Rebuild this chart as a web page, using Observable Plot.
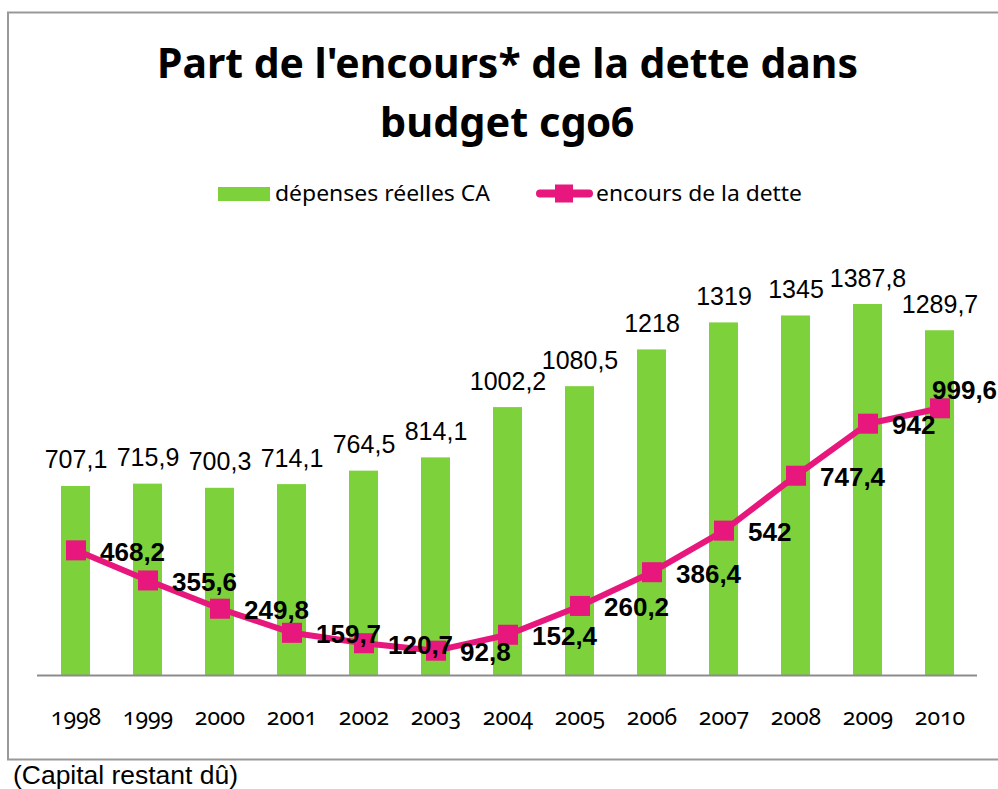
<!DOCTYPE html>
<html><head><meta charset="utf-8">
<script src="https://cdn.jsdelivr.net/npm/d3@7"></script>
<script src="https://cdn.jsdelivr.net/npm/@observablehq/plot@0.6"></script>
<style>
html,body{margin:0;padding:0;width:998px;height:789px;overflow:hidden;background:#fff;}
#overlay{position:absolute;left:0;top:0;}
#chart{position:absolute;left:0;top:240px;}
#chart svg{overflow:visible;}
#chart g[aria-label="x-axis tick label"] text{font-variant-numeric:oldstyle-nums;}
.onum{font-variant-numeric:oldstyle-nums;}
</style></head>
<body>
<svg id="overlay" width="998" height="789"></svg>
<div id="chart"></div>
<script>
const years = ["1998","1999","2000","2001","2002","2003","2004","2005","2006","2007","2008","2009","2010"];
const depenses = [707.1, 715.9, 700.3, 714.1, 764.5, 814.1, 1002.2, 1080.5, 1218, 1319, 1345, 1387.8, 1289.7];
const encours = [468.2, 355.6, 249.8, 159.7, 120.7, 92.8, 152.4, 260.2, 386.4, 542, 747.4, 942, 999.6];
const titleLines = ["Part de l'encours* de la dette dans", "budget cg06"];
const seriesNames = ["dépenses réelles CA", "encours de la dette"];
const caption = "(Capital restant dû)";

const GREEN = "#7dd13a", PINK = "#e8177d";
const fmt = v => String(v).replace(".", ",");

const data = years.map((y, i) => ({year: y, dep: depenses[i], enc: encours[i]}));
const last = data.slice(-1);
const rest = data.slice(0, -1);

// Overlay: frame, title, legend, caption
const ov = d3.select("#overlay");
ov.append("rect").attr("x", 8).attr("y", 12.5).attr("width", 1010).attr("height", 747)
  .attr("fill", "none").attr("stroke", "#999").attr("stroke-width", 2);
const tl = [{t: titleLines[0], x: 157, y: 78, w: 701}, {t: titleLines[1], x: 380, y: 137, w: 255}];
tl.forEach(d => ov.append("text").attr("class", "onum").attr("x", d.x).attr("y", d.y)
  .attr("font-family", "'Noto Sans'").attr("font-weight", 700).attr("font-size", 41)
  .attr("textLength", d.w).attr("lengthAdjust", "spacingAndGlyphs").text(d.t));
// legend
ov.append("rect").attr("x", 218).attr("y", 187).attr("width", 52).attr("height", 14).attr("fill", GREEN);
ov.append("text").attr("x", 275).attr("y", 201).attr("font-family", "'Noto Sans'").attr("font-size", 22)
  .attr("textLength", 215).attr("lengthAdjust", "spacingAndGlyphs").text(seriesNames[0]);
ov.append("line").attr("x1", 540).attr("x2", 589).attr("y1", 193.5).attr("y2", 193.5)
  .attr("stroke", PINK).attr("stroke-width", 8).attr("stroke-linecap", "round");
ov.append("rect").attr("x", 555).attr("y", 184.5).attr("width", 18).attr("height", 18).attr("fill", PINK);
ov.append("text").attr("x", 596).attr("y", 201).attr("font-family", "'Noto Sans'").attr("font-size", 22)
  .attr("textLength", 206).attr("lengthAdjust", "spacingAndGlyphs").text(seriesNames[1]);
// caption
ov.append("text").attr("x", 13).attr("y", 784).attr("font-family", "'Liberation Sans', Arial").attr("font-size", 25)
  .attr("textLength", 225).attr("lengthAdjust", "spacingAndGlyphs").text(caption);

const chart = Plot.plot({
  width: 998,
  height: 500,
  marginLeft: 37,
  marginRight: 21,
  marginTop: 7.3,
  marginBottom: 65,
  style: {background: "transparent", overflow: "visible"},
  x: {type: "band", domain: years, paddingInner: 0.6, paddingOuter: 0.3, label: null},
  y: {domain: [0, 1600], axis: null},
  marks: [
    Plot.barY(data, {x: "year", y: "dep", fill: GREEN}),
    Plot.ruleY([0], {stroke: "#8c8c8c", strokeWidth: 2}),
    Plot.line(data, {x: "year", y: "enc", stroke: PINK, strokeWidth: 6, strokeLinejoin: "round"}),
    Plot.dot(data, {x: "year", y: "enc", symbol: "square", r: 11.3, fill: PINK, stroke: "none"}),
    Plot.text(data, {x: "year", y: "dep", text: d => fmt(d.dep), lineAnchor: "bottom", dy: -18,
      fontSize: 25, fontFamily: "'Liberation Sans', Arial", fill: "#000"}),
    Plot.text(rest, {x: "year", y: "enc", text: d => fmt(d.enc), textAnchor: "start", dx: 24, dy: 2,
      fontSize: 26, fontWeight: "bold", fontFamily: "'Liberation Sans', Arial", fill: "#000"}),
    Plot.text(last, {x: "year", y: "enc", text: d => fmt(d.enc), textAnchor: "start", dx: -8, dy: -18,
      fontSize: 26, fontWeight: "bold", fontFamily: "'Liberation Sans', Arial", fill: "#000"}),
    Plot.axisX({tickSize: 0, tickPadding: 33, fontSize: 23, fontFamily: "'Noto Sans'", fill: "#000", label: null})
  ]
});
document.getElementById("chart").appendChild(chart);
</script>
</body></html>
